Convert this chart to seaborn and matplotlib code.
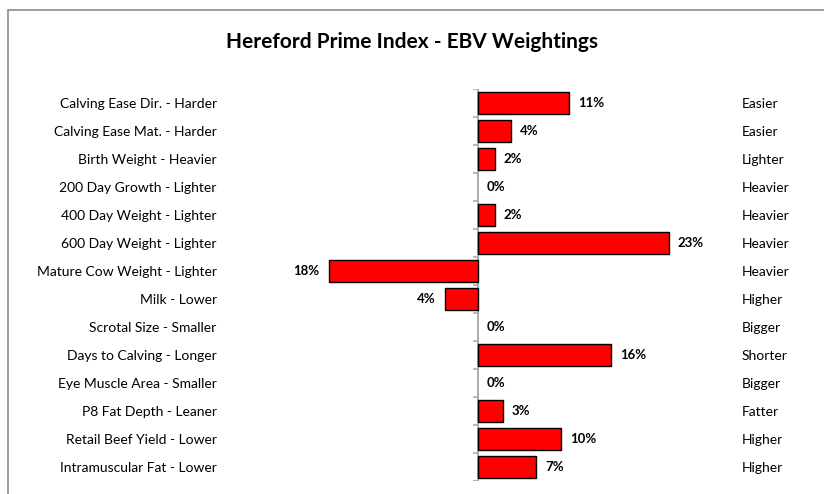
import matplotlib
matplotlib.use("Agg")
import matplotlib.pyplot as plt
import pandas as pd
import seaborn as sns

# Дані з картинки
traits = [
    "Calving Ease Dir. - Harder", "Calving Ease Mat. - Harder", "Birth Weight - Heavier",
    "200 Day Growth - Lighter", "400 Day Weight - Lighter", "600 Day Weight - Lighter",
    "Mature Cow Weight - Lighter", "Milk - Lower", "Scrotal Size - Smaller",
    "Days to Calving - Longer", "Eye Muscle Area - Smaller", "P8 Fat Depth - Leaner",
    "Retail Beef Yield - Lower", "Intramuscular Fat - Lower",
]
right_labels = [
    "Easier", "Easier", "Lighter", "Heavier", "Heavier", "Heavier", "Heavier",
    "Higher", "Bigger", "Shorter", "Bigger", "Fatter", "Higher", "Higher",
]
weights = [11, 4, 2, 0, 2, 23, -18, -4, 0, 16, 0, 3, 10, 7]

df = pd.DataFrame({"trait": traits, "weight": weights})

sns.set_theme(style="white")
plt.rcParams["font.family"] = ["Lato", "DejaVu Sans"]

W, H = 824, 494
fig = plt.figure(figsize=(W / 100, H / 100), dpi=100)
ax = fig.add_axes([300 / W, (H - 481) / H, 430 / W, 392 / H])

sns.barplot(data=df, x="weight", y="trait", orient="h", color="#ff0000",
            edgecolor="black", linewidth=1.0, width=0.78, saturation=1, ax=ax)
# нульові бари без контуру
for p in ax.patches:
    if p.get_width() == 0:
        p.set_linewidth(0)

px_per_unit = 8.3
ax.set_xlim(-178 / px_per_unit, 252 / px_per_unit)
ax.set_ylim(len(traits) - 0.5, -0.5)

# вертикальна вісь на нулі та маленькі поділки між категоріями
ax.axvline(0, color="#a6a6a6", lw=1.3, zorder=0.5)
for k in range(len(traits) + 1):
    ax.plot([-0.65, 0], [k - 0.5, k - 0.5], color="#a6a6a6", lw=1.1,
            solid_capstyle="butt", zorder=0.5)

for s in ax.spines.values():
    s.set_visible(False)
ax.set_xticks([])
ax.set_xlabel("")
ax.set_ylabel("")
ax.set_yticks(range(len(traits)), traits)
ax.tick_params(axis="y", length=0, pad=60, labelsize=10, labelcolor="black")

ax2 = ax.twinx()
ax2.set_ylim(ax.get_ylim())
ax2.set_yticks(range(len(traits)), right_labels)
ax2.tick_params(axis="y", length=0, pad=8.6, labelsize=10, labelcolor="black")
for s in ax2.spines.values():
    s.set_visible(False)

# підписи значень
for i, v in enumerate(weights):
    off = 6.5 if v >= 0 else -6.5
    ax.annotate(f"{abs(v)}%", (v, i), xytext=(off, 0), textcoords="offset points",
                ha="left" if v >= 0 else "right", va="center",
                fontsize=9.5, fontweight="bold", color="black")

fig.text(411.5 / W, 1 - 42 / H, "Hereford Prime Index - EBV Weightings",
         ha="center", va="center", fontsize=15, fontweight="bold", color="black")

# рамка навколо діаграми
frame = plt.Rectangle((8 / W, -0.1), 1.2, 1 - 10 / H + 0.1, transform=fig.transFigure,
                      fill=False, edgecolor="#8c8c8c", lw=1.2)
fig.patches.append(frame)

fig.savefig("out.png", dpi=100)
